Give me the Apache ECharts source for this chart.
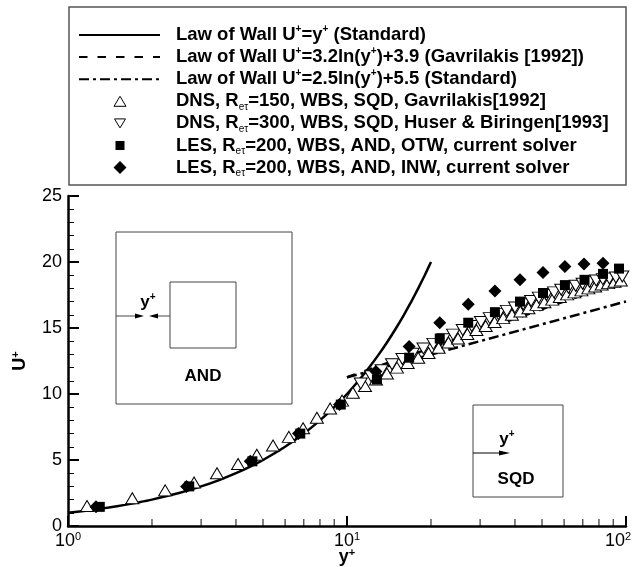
<!DOCTYPE html>
<html>
<head>
<meta charset="utf-8">
<script src="https://cdn.jsdelivr.net/npm/echarts@6/dist/echarts.min.js"></script>
<style>html,body{margin:0;padding:0;background:#fff}#c{width:634px;height:567px}</style>
</head>
<body>
<div id="c"></div>
<script>
// ---- data ----
const lawLinear = [[1,1],[1.2,1.2],[1.4,1.4],[1.6,1.6],[1.8,1.8],[2,2],[2.5,2.5],[3,3],[3.5,3.5],[4,4],[4.5,4.5],[5,5],[6,6],[7,7],[8,8],[9,9],[10,10],[11,11],[12,12],[13,13],[14,14],[15,15],[16,16],[17,17],[18,18],[19,19],[20,20]];
const lawLogGav = [[10,11.27],[100,18.64]];
const lawLogStd = [[10,11.26],[100,17.01]];
const dns150 = [[1.17,1.52],[1.70,2.1],[2.23,2.7],[2.83,3.3],[3.42,4.0],[4.07,4.7],[4.75,5.4],[5.43,6.1],[6.19,6.75],[6.96,7.4],[7.8,8.2],[8.7,8.9],[9.6,9.5],[10.5,10.1],[11.6,10.6],[12.7,11.1],[13.9,11.55],[15.1,12.0],[16.5,12.35],[18.0,12.75],[19.6,13.1],[21.3,13.5],[23.1,13.9],[25.0,14.2],[27.0,14.55],[29.1,14.85],[31.4,15.15],[33.8,15.45],[36.3,15.75],[39.0,16.0],[41.8,16.25],[44.7,16.5],[47.8,16.75],[51.0,16.95],[54.4,17.15],[57.9,17.35],[61.5,17.55],[65.3,17.7],[69.2,17.85],[73.3,18.0],[77.5,18.15],[81.8,18.3],[86.3,18.4],[91.0,18.5],[95.8,18.6]];
const dns300 = [[11.2,10.8],[12.2,11.35],[13.3,11.8],[14.5,12.25],[15.8,12.65],[17.2,13.05],[18.8,13.45],[20.4,13.8],[22.2,14.15],[24.0,14.5],[26.0,14.85],[28.0,15.15],[30.2,15.45],[32.5,15.75],[34.9,16.05],[37.4,16.3],[40.0,16.55],[42.8,16.8],[45.7,17.05],[48.7,17.3],[51.9,17.5],[55.2,17.7],[58.6,17.9],[62.2,18.05],[66.0,18.2],[69.9,18.35],[74.0,18.5],[78.2,18.6],[82.6,18.7],[87.2,18.75],[92.0,18.82],[97.0,18.9]];
const lesOTW = [[1.3,1.45],[2.72,3.0],[4.58,4.9],[6.8,7.0],[9.5,9.2],[12.8,11.1],[16.7,12.75],[21.5,14.2],[27.2,15.4],[33.9,16.2],[41.7,17.0],[50.4,17.65],[60.4,18.25],[71,18.65],[82.7,19.1],[94.4,19.5]];
const lesINW = [[1.26,1.45],[2.66,3.0],[4.5,4.9],[6.7,7.0],[9.4,9.2],[12.7,11.7],[16.7,13.6],[21.5,15.4],[27.2,16.8],[33.9,17.8],[41.7,18.65],[50.4,19.2],[60.4,19.65],[70.7,19.85],[82.7,19.9]];
const xMinorTicks = [2,3,4,5,6,7,8,9,20,30,40,50,60,70,80,90];
const yTicks = [0,5,10,15,20,25];
const legendLabels = [
  '{t|Law of Wall U}{p|+}{t|=y}{p|+}{t| (Standard)}',
  '{t|Law of Wall U}{p|+}{t|=3.2ln(y}{p|+}{t|)+3.9 (Gavrilakis [1992])}',
  '{t|Law of Wall U}{p|+}{t|=2.5ln(y}{p|+}{t|)+5.5 (Standard)}',
  '{t|DNS, R}{s|eτ}{t|=150, WBS, SQD, Gavrilakis[1992]}',
  '{t|DNS, R}{s|eτ}{t|=300, WBS, SQD, Huser & Biringen[1993]}',
  '{t|LES, R}{s|eτ}{t|=200, WBS, AND, OTW, current solver}',
  '{t|LES, R}{s|eτ}{t|=200, WBS, AND, INW, current solver}'
];
const seriesNames = ['Law of Wall U+=y+ (Standard)','Law of Wall U+=3.2ln(y+)+3.9 (Gavrilakis [1992])','Law of Wall U+=2.5ln(y+)+5.5 (Standard)','DNS, Re=150, WBS, SQD, Gavrilakis[1992]','DNS, Re=300, WBS, SQD, Huser & Biringen[1993]','LES, Re=200, WBS, AND, OTW, current solver','LES, Re=200, WBS, AND, INW, current solver'];

const FONT = '"Liberation Sans", Arial, Helvetica, sans-serif';
const DASH = [8.5, 10];
const DASHDOT = [10, 4, 3, 4];

const richLegend = {
  t: {fontSize: 18.5, fontWeight: 'bold', fontFamily: FONT, lineHeight: 21, fill: '#000'},
  p: {fontSize: 10, fontWeight: 'bold', fontFamily: FONT, lineHeight: 12, verticalAlign: 'top', fill: '#000'},
  s: {fontSize: 10, fontFamily: FONT, lineHeight: 10, verticalAlign: 'bottom', fill: '#000'}
};

// ---- legend & insets drawn as graphics ----
const g = [];
const L = {x: 69, y: 7, w: 557, h: 178};
g.push({type: 'rect', shape: {x: L.x, y: L.y, width: L.w, height: L.h}, style: {fill: '#fff', stroke: '#555', lineWidth: 1.5}, z: 10});
const rowY0 = 35, rowGap = 22.1, lx1 = 79, lx2 = 160, sx = 120, tx = 176;
legendLabels.forEach((lab, i) => {
  const y = rowY0 + i * rowGap;
  if (i === 0) g.push({type: 'line', shape: {x1: lx1, y1: y, x2: lx2, y2: y}, style: {stroke: '#000', lineWidth: 2}, z: 11});
  if (i === 1) g.push({type: 'line', shape: {x1: lx1, y1: y, x2: lx2, y2: y}, style: {stroke: '#000', lineWidth: 2, lineDash: DASH}, z: 11});
  if (i === 2) g.push({type: 'line', shape: {x1: lx1, y1: y, x2: lx2, y2: y}, style: {stroke: '#000', lineWidth: 2, lineDash: DASHDOT}, z: 11});
  if (i === 3) g.push({type: 'polygon', shape: {points: [[sx - 6, y + 5], [sx + 6, y + 5], [sx, y - 5]]}, style: {fill: '#fff', stroke: '#000', lineWidth: 1}, z: 11});
  if (i === 4) g.push({type: 'polygon', shape: {points: [[sx - 5.5, y - 4.5], [sx + 5.5, y - 4.5], [sx, y + 4.5]]}, style: {fill: '#fff', stroke: '#000', lineWidth: 1}, z: 11});
  if (i === 5) g.push({type: 'rect', shape: {x: sx - 4.5, y: y - 4.5, width: 9, height: 9}, style: {fill: '#000'}, z: 11});
  if (i === 6) g.push({type: 'polygon', shape: {points: [[sx, y - 6.5], [sx + 6.5, y], [sx, y + 6.5], [sx - 6.5, y]]}, style: {fill: '#000'}, z: 11});
  g.push({type: 'text', x: tx, y: y, style: {text: lab, rich: richLegend, verticalAlign: 'middle', align: 'left', fontFamily: FONT}, z: 11});
});

const insetRich = {
  b: {fontSize: 17, fontWeight: 'bold', fontFamily: FONT, lineHeight: 20, fill: '#000'},
  p: {fontSize: 10, fontWeight: 'bold', fontFamily: FONT, lineHeight: 12, verticalAlign: 'top', fill: '#000'}
};
// AND inset
g.push({type: 'rect', shape: {x: 116, y: 232, width: 176, height: 172}, style: {fill: 'none', stroke: '#444', lineWidth: 1}, z: 4});
g.push({type: 'rect', shape: {x: 170, y: 282, width: 66, height: 66}, style: {fill: 'none', stroke: '#444', lineWidth: 1}, z: 4});
g.push({type: 'line', shape: {x1: 116, y1: 316, x2: 137, y2: 316}, style: {stroke: '#444', lineWidth: 1}, z: 4});
g.push({type: 'polygon', shape: {points: [[135, 313.5], [144, 316], [135, 318.5]]}, style: {fill: '#000'}, z: 4});
g.push({type: 'line', shape: {x1: 170, y1: 316, x2: 155, y2: 316}, style: {stroke: '#444', lineWidth: 1}, z: 4});
g.push({type: 'polygon', shape: {points: [[158, 313.5], [149, 316], [158, 318.5]]}, style: {fill: '#000'}, z: 4});
g.push({type: 'text', x: 148, y: 302, style: {text: '{b|y}{p|+}', rich: insetRich, align: 'center', verticalAlign: 'middle'}, z: 4});
g.push({type: 'text', x: 203, y: 376, style: {text: '{b|AND}', rich: insetRich, align: 'center', verticalAlign: 'middle'}, z: 4});
// SQD inset
g.push({type: 'rect', shape: {x: 473, y: 405, width: 90, height: 92}, style: {fill: '#fff', stroke: '#444', lineWidth: 1}, z: 4});
g.push({type: 'line', shape: {x1: 473, y1: 453, x2: 502, y2: 453}, style: {stroke: '#000', lineWidth: 1}, z: 4});
g.push({type: 'polygon', shape: {points: [[499, 450.5], [510, 453], [499, 455.5]]}, style: {fill: '#000'}, z: 4});
g.push({type: 'text', x: 507, y: 439, style: {text: '{b|y}{p|+}', rich: insetRich, align: 'center', verticalAlign: 'middle'}, z: 4});
g.push({type: 'text', x: 516, y: 479, style: {text: '{b|SQD}', rich: insetRich, align: 'center', verticalAlign: 'middle'}, z: 4});

const chart = echarts.init(document.getElementById('c'), null, {renderer: 'canvas'});
chart.setOption({
  backgroundColor: '#fff',
  animation: false,
  textStyle: {fontFamily: FONT},
  grid: {left: 68, right: 8, top: 196, bottom: 41, containLabel: false, outerBoundsMode: 'none'},
  xAxis: {
    type: 'log', logBase: 10, min: 1, max: 100,
    axisLine: {lineStyle: {color: '#000', width: 2.5}},
    axisTick: {inside: true, length: 10, lineStyle: {color: '#000', width: 2}},
    splitLine: {show: false},
    axisLabel: {
      margin: 5, color: '#000', hideOverlap: false, showMaxLabel: true, showMinLabel: true,
      formatter: v => {
        const e = Math.round(Math.log10(v));
        return e === 2 ? '{b|10}{s2|' + e + '}' : '{b|10}{s|' + e + '}';
      },
      rich: {
        b: {fontSize: 18, fontFamily: FONT, color: '#000', lineHeight: 20},
        s: {fontSize: 11, fontFamily: FONT, color: '#000', lineHeight: 12, verticalAlign: 'top'},
        s2: {fontSize: 11, fontFamily: FONT, color: '#000', lineHeight: 12, verticalAlign: 'top', padding: [0, 16, 0, 0]}
      }
    },
    name: '{b|y}{s|+}', nameLocation: 'middle', nameGap: 21, nameMoveOverlap: false,
    nameTextStyle: {
      verticalAlign: 'top',
      rich: {
        b: {fontSize: 18, fontWeight: 'bold', fontFamily: FONT, color: '#000', lineHeight: 21},
        s: {fontSize: 11, fontWeight: 'bold', fontFamily: FONT, color: '#000', lineHeight: 12, verticalAlign: 'top'}
      }
    }
  },
  yAxis: {
    type: 'value', min: yTicks[0], max: yTicks[yTicks.length - 1], interval: 5,
    axisLine: {lineStyle: {color: '#000', width: 2.5}},
    axisTick: {inside: true, length: 11, lineStyle: {color: '#000', width: 2}},
    minorTick: {show: true, splitNumber: 5, length: 6, lineStyle: {color: '#000', width: 1}},
    splitLine: {show: false}, minorSplitLine: {show: false},
    axisLabel: {fontSize: 18, color: '#000', margin: 6, fontFamily: FONT},
    name: '{b|U}{s|+}', nameLocation: 'middle', nameGap: 37, nameRotate: 90, nameMoveOverlap: false,
    nameTextStyle: {
      rich: {
        b: {fontSize: 18, fontWeight: 'bold', fontFamily: FONT, color: '#000', lineHeight: 21},
        s: {fontSize: 11, fontWeight: 'bold', fontFamily: FONT, color: '#000', lineHeight: 12, verticalAlign: 'top'}
      }
    }
  },
  graphic: g,
  series: [
    {name: seriesNames[0], type: 'line', data: lawLinear, showSymbol: false, smooth: 0.2, lineStyle: {color: '#000', width: 2.5}, z: 2, silent: true},
    {name: seriesNames[1], type: 'line', data: lawLogGav, showSymbol: false, lineStyle: {color: '#000', width: 2.5, type: DASH}, z: 2, silent: true},
    {name: seriesNames[2], type: 'line', data: lawLogStd, showSymbol: false, lineStyle: {color: '#000', width: 2.5, type: DASHDOT}, z: 2, silent: true},
    {name: seriesNames[3], type: 'scatter', data: dns150, symbol: 'triangle', symbolSize: [13, 11], itemStyle: {color: '#fff', borderColor: '#000', borderWidth: 1, opacity: 1}, z: 3, silent: true},
    {name: seriesNames[4], type: 'scatter', data: dns300, symbol: 'triangle', symbolRotate: 180, symbolSize: [13, 11], itemStyle: {color: '#fff', borderColor: '#000', borderWidth: 1, opacity: 1}, z: 3, silent: true},
    {name: seriesNames[5], type: 'scatter', data: lesOTW, symbol: 'rect', symbolSize: 10, itemStyle: {color: '#000', opacity: 1}, z: 4, silent: true},
    {name: seriesNames[6], type: 'scatter', data: lesINW, symbol: 'diamond', symbolSize: 13, itemStyle: {color: '#000', opacity: 1}, z: 4, silent: true},
    {name: 'x minor ticks', type: 'scatter', data: xMinorTicks.map(v => [v, 0]), symbol: 'rect', symbolSize: [1.2, 7], symbolOffset: [0, -3.5], itemStyle: {color: '#000'}, z: 5, silent: true, clip: false}
  ]
});
</script>
</body>
</html>
